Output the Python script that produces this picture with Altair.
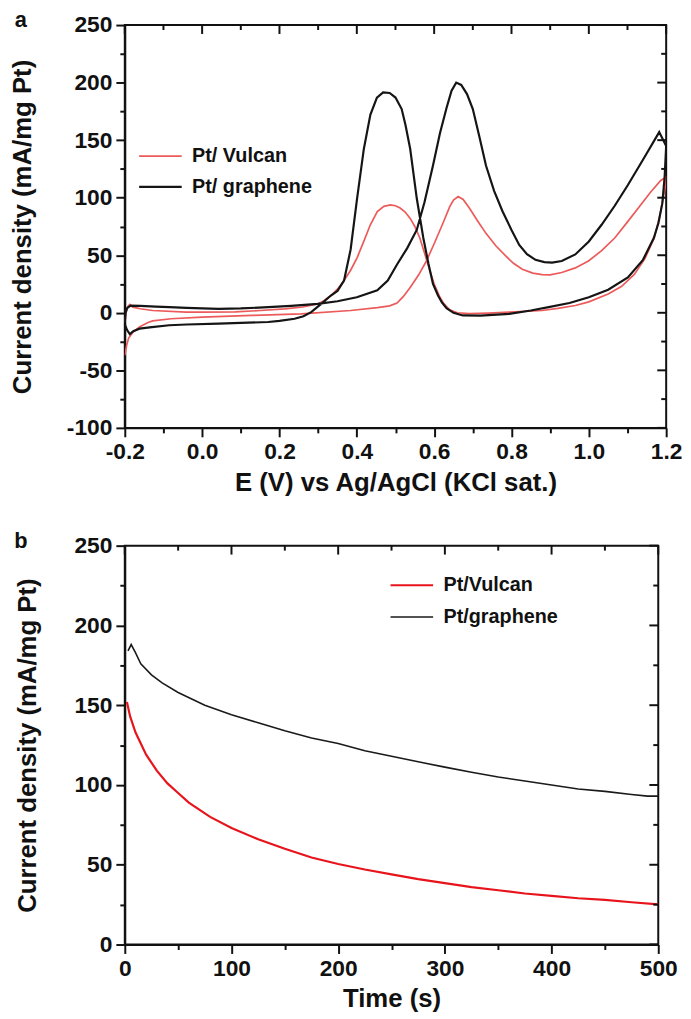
import altair as alt
import pandas as pd

FONT = "Liberation Sans"

# ---------------- Panel a: cyclic voltammograms (E in V, current in mA/mg Pt) ----------------
GR_E = [-0.200, -0.198, -0.194, -0.185, -0.160, -0.120, -0.085, -0.040, 0.000, 0.043, 0.100, 0.171,
        0.230, 0.299, 0.350, 0.400, 0.453, 0.480, 0.504, 0.530, 0.555, 0.575, 0.597, 0.615, 0.632,
        0.645, 0.657, 0.670, 0.685, 0.700, 0.717, 0.734, 0.755, 0.777, 0.800, 0.820, 0.840, 0.862,
        0.885, 0.905, 0.930, 0.965, 1.000, 1.033, 1.067, 1.101, 1.140, 1.182,
        1.200, 1.196, 1.190, 1.180, 1.168, 1.140, 1.101, 1.050, 1.000, 0.950, 0.896, 0.850, 0.794,
        0.720, 0.674, 0.650, 0.632, 0.620, 0.610, 0.597, 0.585, 0.572, 0.555, 0.538, 0.526, 0.516,
        0.500, 0.485, 0.468, 0.452, 0.435, 0.418, 0.401, 0.384, 0.367, 0.350, 0.333, 0.308, 0.282,
        0.262, 0.239, 0.200, 0.171, 0.100, 0.043, -0.040, -0.085, -0.130, -0.162, -0.178, -0.187,
        -0.194, -0.200]
GR_I = [-8, 0, 4, 6.3, 6, 5.3, 4.9, 4.2, 3.8, 3.4, 3.8, 4.9,
        6.0, 7.7, 10, 13.5, 19.5, 28, 42, 56, 72, 96, 128, 156, 178,
        193, 200, 198, 190, 177, 153, 128, 106, 88, 72, 59, 51, 46,
        44, 43.6, 45, 50.7, 62, 76.5, 93, 111, 133, 157,
        145, 118, 95, 78, 65, 46, 30.7, 20, 13.5, 8.5, 4.9, 2, -0.9,
        -2.5, -2.3, 0, 4, 9, 15, 25, 43, 65, 99.5, 142.5, 163, 177,
        187, 191, 191.5, 187, 172, 142, 100, 55, 28, 19, 15, 7.7, 0.6,
        -3, -5.2, -7, -8, -8.8, -9.4, -10.2, -10.8, -12.5, -13.8, -16, -18.5,
        -15, -10]

VU_E = [-0.200, -0.195, -0.190, -0.179, -0.162, -0.140, -0.128, -0.080, 0.000, 0.128, 0.256, 0.384,
        0.453, 0.485, 0.504, 0.520, 0.538, 0.560, 0.580, 0.600, 0.623, 0.640, 0.650, 0.662, 0.675,
        0.691, 0.712, 0.734, 0.760, 0.785, 0.805, 0.828, 0.855, 0.879, 0.900, 0.930, 0.965, 0.999,
        1.033, 1.067, 1.100, 1.135, 1.160, 1.186, 1.200,
        1.198, 1.192, 1.182, 1.169, 1.145, 1.118, 1.085, 1.050, 1.000, 0.965, 0.920, 0.879, 0.794,
        0.740, 0.691, 0.660, 0.640, 0.625, 0.615, 0.600, 0.589, 0.575, 0.563, 0.550, 0.538, 0.525,
        0.512, 0.500, 0.487, 0.470, 0.453, 0.435, 0.418, 0.401, 0.384, 0.367, 0.350, 0.333, 0.315,
        0.299, 0.260, 0.214, 0.150, 0.086, 0.000, -0.042, -0.128, -0.160, -0.179, -0.187, -0.193,
        -0.197, -0.200]
VU_I = [-37, -28, -22, -17, -12.3, -8.5, -7, -5.2, -3.7, -2.3, -0.9, 2,
        4.5, 6, 8.5, 14, 22, 33, 45, 60, 78, 92, 98, 101, 98.5,
        91, 80, 69, 58, 49.5, 43, 37.8, 34.5, 33.2, 33, 35, 39, 45,
        54, 65, 79, 94, 105, 115, 118,
        110, 99, 82, 65, 47, 33.5, 23, 16.3, 9.5, 6.3, 3.8, 2, 0.6,
        -0.3, -0.8, 0, 2.5, 8, 13.5, 25, 36.5, 52, 65, 75, 82, 87.5,
        91, 93, 93.7, 92.5, 88, 76.5, 62, 48, 37, 28, 20.5, 15, 10.5,
        7.7, 5, 3.4, 2, 0.8, 0.6, 0.6, 2, 3.5, 4.9, 7.2, 5,
        0, -8]

# ---------------- Panel b: chronoamperometry (time in s, current in mA/mg Pt) ----------------
T_GR = [3, 6, 10, 15, 25, 35, 50, 75, 100, 125, 150, 175, 200, 225, 250, 275, 300, 325, 350,
        375, 400, 425, 450, 475, 490, 500]
I_GR = [184, 188, 183, 176, 169, 164, 158, 150, 144, 139, 134, 129.5, 126, 121.5, 118, 114.5,
        111.2, 108, 105, 102.5, 100, 97.5, 96, 94, 93, 93]
T_VU = [2, 5, 10, 20, 30, 40, 50, 60, 80, 100, 125, 150, 175, 200, 225, 250, 275, 300, 325, 350,
        375, 400, 425, 450, 475, 500]
I_VU = [152, 143, 133, 119, 109, 101, 95, 89, 80, 73, 66, 60, 54.5, 50.5, 47, 44, 41, 38.5, 36,
        34, 32, 30.5, 29, 28, 26.5, 25.2]

SERIES_A = ["Pt/ Vulcan", "Pt/ graphene"]
SERIES_B = ["Pt/Vulcan", "Pt/graphene"]
COLORS_A = ["#ec5a5a", "#151515"]
COLORS_B = ["#e8141c", "#1a1a1a"]
WIDTHS_A = [1.7, 2.2]
WIDTHS_B = [2.2, 1.6]

# tick positions: labelled (major) and unlabelled (minor)
XA_MAJOR = [-0.2, 0.0, 0.2, 0.4, 0.6, 0.8, 1.0, 1.2]
XA_MINOR = [-0.1, 0.1, 0.3, 0.5, 0.7, 0.9, 1.1]
YA_MAJOR = [-100, -50, 0, 50, 100, 150, 200, 250]
YA_MINOR = [-75, -25, 25, 75, 125, 175, 225]
XB_MAJOR = [0, 100, 200, 300, 400, 500]
XB_MINOR = [50, 150, 250, 350, 450]
YB_MAJOR = [0, 50, 100, 150, 200, 250]
YB_MINOR = [25, 75, 125, 175, 225]

MAJOR_LEN = 9
MINOR_LEN = 5


def frame(xs_list, ys_list, names, xname, yname):
    rows = []
    for xs, ys, name in zip(xs_list, ys_list, names):
        for k, (xv, yv) in enumerate(zip(xs, ys)):
            rows.append({"series": name, xname: xv, yname: yv, "idx": k})
    return pd.DataFrame(rows)


df_a = frame([VU_E, GR_E], [VU_I, GR_I], SERIES_A, "E", "I")
df_b = frame([T_VU, T_GR], [I_VU, I_GR], SERIES_B, "t", "I")


def label_expr(test, fmt):
    return f"({test}) ? replace(format(datum.value, '{fmt}'), '\u2212', '-') : ''"


def tick_size(test):
    return {"condition": {"test": f"!({test})", "value": MINOR_LEN}, "value": MAJOR_LEN}


def panel(df, xf, yf, xdom, ydom, xmaj, xmin, ymaj, ymin, xtest, ytest, xfmt, yfmt,
          xtitle, ytitle, series, colors, widths, W, H, legx, legy, clip_h, letter, ytp, xtp):
    xs = alt.Scale(domain=xdom, nice=False, zero=False)
    ys = alt.Scale(domain=ydom, nice=False, zero=False)
    xt = sorted(xmaj + xmin)
    yt = sorted(ymaj + ymin)
    main_x = alt.Axis(values=xt, labelExpr=label_expr(xtest, xfmt), tickSize=tick_size(xtest),
                      title=xtitle, labelFlush=False, labelOverlap=False, orient="bottom",
                      titlePadding=xtp)
    main_y = alt.Axis(values=yt, labelExpr=label_expr(ytest, yfmt), tickSize=tick_size(ytest),
                      title=ytitle, labelFlush=False, labelOverlap=False, orient="left",
                      titlePadding=ytp)
    legend = alt.Legend(orient="none", legendX=legx, legendY=legy, title=None,
                        symbolType="stroke", symbolSize=1849, symbolStrokeWidth=2.5,
                        labelFont=FONT, labelFontSize=20, labelFontWeight="bold",
                        labelColor="#111", clipHeight=clip_h, rowPadding=2, labelOffset=9,
                        padding=0, symbolOffset=0)
    lines = alt.Chart(df).mark_line(clip=True).encode(
        x=alt.X(f"{xf}:Q", scale=xs, axis=main_x),
        y=alt.Y(f"{yf}:Q", scale=ys, axis=main_y),
        color=alt.Color("series:N", scale=alt.Scale(domain=series, range=colors), legend=legend),
        strokeWidth=alt.StrokeWidth("series:N", scale=alt.Scale(domain=series, range=widths),
                                    legend=None),
        order="idx:Q",
    )
    layers = [lines]
    # inward ticks on the top and right edges of the frame
    for vals, length in ((xmaj, MAJOR_LEN), (xmin, MINOR_LEN)):
        layers.append(alt.Chart(pd.DataFrame({"v": vals})).mark_rule(color="#111", strokeWidth=2)
                      .encode(x=alt.X("v:Q", scale=xs, axis=None),
                              y=alt.value(0), y2=alt.value(length)))
    for vals, length in ((ymaj, MAJOR_LEN), (ymin, MINOR_LEN)):
        layers.append(alt.Chart(pd.DataFrame({"v": vals})).mark_rule(color="#111", strokeWidth=2)
                      .encode(y=alt.Y("v:Q", scale=ys, axis=None),
                              x=alt.value(W), x2=alt.value(W - length)))
    layers.append(alt.Chart(pd.DataFrame({"tag": [letter]})).mark_text(
        font=FONT, fontSize=22, fontWeight="bold", color="#111", align="center",
        baseline="alphabetic").encode(text="tag:N", x=alt.value(-105), y=alt.value(2)))
    return alt.layer(*layers).resolve_axis(x="independent", y="independent") \
        .properties(width=W, height=H)


pa = panel(df_a, "E", "I", [-0.2, 1.2], [-100, 250], XA_MAJOR, XA_MINOR, YA_MAJOR, YA_MINOR,
           "abs(round(datum.value*10)) % 2 == 0", "datum.value % 50 == 0", ".1f", "d",
           "E (V) vs Ag/AgCl (KCl sat.)", "Current density (mA/mg Pt)",
           SERIES_A, COLORS_A, WIDTHS_A, 547, 407, 13, 118, 29, "a", 31, 6)
pb = panel(df_b, "t", "I", [0, 500], [0, 250], XB_MAJOR, XB_MINOR, YB_MAJOR, YB_MINOR,
           "datum.value % 100 == 0", "datum.value % 50 == 0", "d", "d",
           "Time (s)", "Current density (mA/mg Pt)",
           SERIES_B, COLORS_B, WIDTHS_B, 539, 403, 267, 25, 30, "b", 34, 6)

chart = alt.vconcat(pa, pb, spacing=33).resolve_scale(color="independent", strokeWidth="independent") \
    .properties(padding={"left": 0, "right": 0, "top": -5, "bottom": 0}) \
    .configure_view(stroke="#111", strokeWidth=2) \
    .configure_axis(grid=False, domainColor="#111", domainWidth=2, tickColor="#111", tickWidth=2,
                    labelFont=FONT, labelFontSize=23, labelFontWeight="bold", labelColor="#111",
                    titleFont=FONT, titleFontSize=26, titleFontWeight="bold", titleColor="#111",
                    labelPadding=4)

chart.save("out.html", embed_options={"renderer": "svg", "actions": False})
